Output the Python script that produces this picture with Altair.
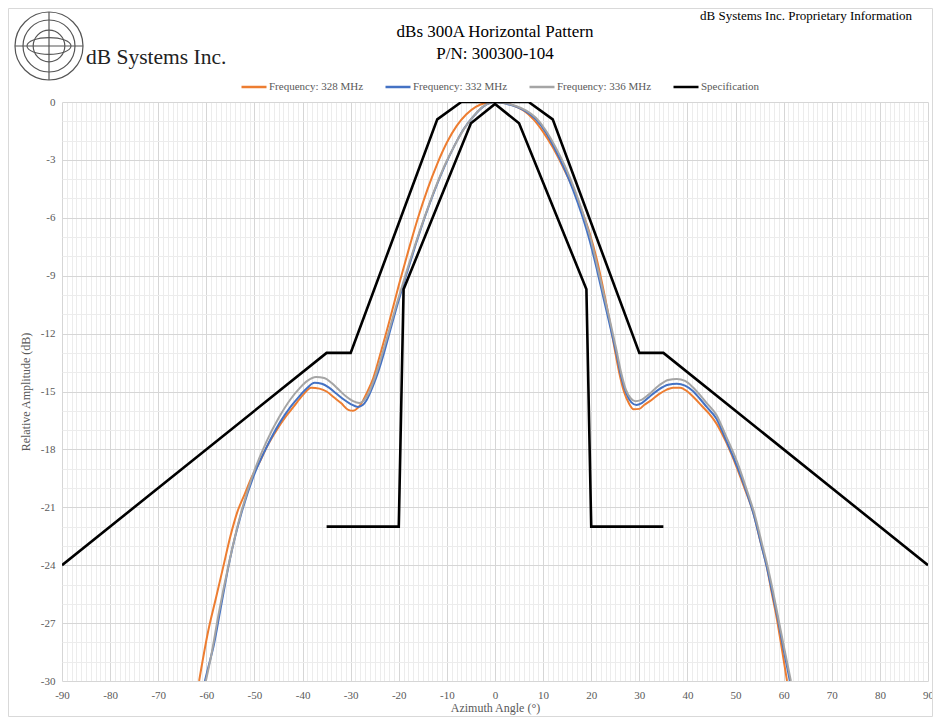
import altair as alt
import pandas as pd

# ---------------- data ----------------
SERIES = ["Frequency: 328 MHz", "Frequency: 332 MHz", "Frequency: 336 MHz", "Specification"]
COLORS = ["#ED7D31", "#4472C4", "#A5A5A5", "#000000"]

ang_328 = [-61.5, -59.6, -58.0, -56.5, -55.0, -53.5, -52.0, -50.5, -49.0, -47.5, -45.4, -43.5, -41.9, -40.0,
           -38.2, -36.5, -35.0, -33.5, -32.0, -30.5, -29.5, -28.5, -27.5, -26.5, -25.3, -24.0, -22.0,
           -20.0, -18.0, -16.0, -14.0, -12.0, -10.0, -8.0, -6.0, -4.0, -2.0, 0.0,
           2.0, 4.0, 6.0, 8.0, 10.0, 12.0, 14.0, 16.0, 18.0, 19.8, 21.3, 22.6, 23.8, 24.8, 25.8, 26.8, 27.8,
           28.8, 30.0, 31.0, 32.2, 34.0, 35.7, 37.0, 38.5, 40.0, 41.5, 43.0, 44.5, 46.0, 48.0, 50.2,
           52.0, 53.7, 55.0, 56.5, 57.5, 58.6, 59.6, 60.7]
db_328 = [-30.0, -27.4, -25.7, -24.1, -22.5, -21.2, -20.3, -19.4, -18.7, -17.9, -17.0, -16.3, -15.8, -15.2,
          -14.8, -14.85, -15.0, -15.3, -15.6, -15.95, -16.0, -15.85, -15.5, -15.0, -14.3, -13.2, -11.4,
          -9.5, -7.7, -6.0, -4.5, -3.2, -2.1, -1.25, -0.65, -0.25, -0.05, 0.0,
          -0.05, -0.2, -0.45, -0.9, -1.55, -2.35, -3.3, -4.35, -5.6, -6.9, -8.3, -9.8, -11.3, -12.7, -14.0, -15.0, -15.6,
          -15.92, -15.9, -15.7, -15.5, -15.15, -14.9, -14.8, -14.8, -15.0, -15.35, -15.75, -16.15, -16.65, -17.6, -18.9,
          -20.1, -21.3, -22.6, -24.1, -25.4, -26.8, -28.3, -30.0]

ang_332 = [-60.3, -59.3, -58.5, -57.0, -55.1, -52.7, -50.2, -47.5, -44.7, -42.5, -40.5, -39.0, -37.5,
           -36.0, -34.5, -33.0, -31.5, -30.0, -28.5, -27.5, -26.7, -25.5, -24.3, -23.3, -22.3, -20.4,
           -18.5, -16.5, -14.5, -12.5, -10.5, -8.5, -6.5, -4.5, -2.5, 0.0,
           2.5, 4.5, 6.5, 8.5, 10.5, 12.5, 14.5, 16.3, 18.0, 19.7, 21.2, 22.5, 23.9, 25.2, 26.3, 27.3,
           28.3, 29.4, 30.5, 32.0, 34.0, 36.0, 37.8, 39.5, 41.0, 42.5, 44.0, 46.0, 48.0, 50.2, 52.0,
           53.8, 55.3, 56.5, 57.7, 58.8, 60.0, 61.3]
db_332 = [-30.0, -29.0, -28.2, -26.2, -23.7, -21.3, -19.4, -17.9, -16.6, -15.8, -15.2, -14.8, -14.55,
          -14.6, -14.8, -15.1, -15.4, -15.65, -15.8, -15.7, -15.45, -14.8, -14.0, -13.2, -12.3, -10.6,
          -9.0, -7.4, -5.9, -4.55, -3.35, -2.3, -1.4, -0.75, -0.25, 0.0,
          -0.1, -0.25, -0.5, -0.9, -1.55, -2.45, -3.5, -4.6, -5.8, -7.2, -8.7, -10.1, -11.6, -13.0, -14.3, -15.1,
          -15.55, -15.7, -15.6, -15.3, -14.9, -14.65, -14.6, -14.7, -14.95, -15.35, -15.8, -16.4, -17.5, -18.8, -20.0,
          -21.4, -22.9, -24.1, -25.5, -26.8, -28.4, -30.0]

ang_336 = [-60.1, -59.0, -57.5, -55.3, -52.8, -50.3, -47.5, -44.8, -42.5, -40.5, -39.0, -37.2, -35.5,
           -34.0, -32.5, -31.0, -29.5, -28.2, -27.2, -26.3, -25.3, -24.2, -23.2, -22.2, -20.3, -18.4,
           -16.4, -14.4, -12.4, -10.4, -8.4, -6.4, -4.4, -2.4, 0.0,
           2.5, 4.5, 6.5, 8.5, 10.5, 12.5, 14.5, 16.5, 18.2, 19.9, 21.3, 22.6, 24.0, 25.2, 26.2, 27.2,
           28.2, 29.2, 30.3, 32.0, 34.0, 36.0, 37.8, 39.5, 41.0, 42.5, 44.0, 46.0, 48.0, 50.4, 52.2,
           54.0, 55.5, 56.7, 57.9, 59.0, 60.2, 61.5]
db_336 = [-30.0, -28.7, -26.6, -23.9, -21.3, -19.3, -17.6, -16.3, -15.4, -14.8, -14.45, -14.25, -14.3,
          -14.55, -14.9, -15.25, -15.5, -15.6, -15.45, -15.1, -14.5, -13.7, -12.85, -12.0, -10.35, -8.8,
          -7.25, -5.8, -4.45, -3.25, -2.25, -1.38, -0.72, -0.22, 0.0,
          -0.08, -0.22, -0.45, -0.82, -1.45, -2.3, -3.3, -4.5, -5.7, -7.1, -8.55, -9.95, -11.45, -12.8, -14.0, -14.9,
          -15.35, -15.5, -15.45, -15.15, -14.7, -14.4, -14.35, -14.45, -14.75, -15.15, -15.6, -16.2, -17.3, -18.7, -20.0,
          -21.4, -22.9, -24.1, -25.5, -26.9, -28.4, -30.0]

spec_outer_ang = [-90, -35, -30, -12, -7, 7, 12, 30, 35, 90]
spec_outer_db = [-24, -13, -13, -0.9, 0, 0, -0.9, -13, -13, -24]
spec_inner_ang = [-35, -20, -19, -5, 0, 5, 19, 20, 35]
spec_inner_db = [-22, -22, -9.7, -1.1, -0.1, -1.1, -9.7, -22, -22]

x_ticks = list(range(-90, 91, 1))
y_ticks = list(range(-30, 1, 1))

TITLE_1 = "dBs 300A Horizontal Pattern"
TITLE_2 = "P/N: 300300-104"
CORNER = "dB Systems Inc. Proprietary Information"
LOGO_TEXT = "dB Systems Inc."

# ---------------- tables ----------------
rows = []
for name, a, d in [(SERIES[0], ang_328, db_328), (SERIES[1], ang_332, db_332), (SERIES[2], ang_336, db_336)]:
    for i, (x, y) in enumerate(zip(a, d)):
        rows.append({"series": name, "seg": name, "idx": i, "angle": x, "db": y})
curves_df = pd.DataFrame(rows)

srows = []
for seg, a, d in [("outer", spec_outer_ang, spec_outer_db), ("inner", spec_inner_ang, spec_inner_db)]:
    for i, (x, y) in enumerate(zip(a, d)):
        srows.append({"series": SERIES[3], "seg": seg, "idx": i, "angle": x, "db": y})
spec_df = pd.DataFrame(srows)

FONT = "Liberation Serif"
GREY = "#595959"

xscale = alt.Scale(domain=[-90, 90], nice=False, zero=False)
yscale = alt.Scale(domain=[-30, 0], nice=False, zero=False)

xaxis = alt.Axis(
    values=x_ticks, labelExpr="datum.value % 10 === 0 ? '' + datum.value : ''",
    grid=True,
    gridColor={"condition": {"test": "datum.value % 10 === 0", "value": "#d6d6d6"}, "value": "#ececec"},
    ticks=False, domain=False, labelOverlap=False, labelFlush=False,
    labelFont=FONT, labelFontSize=11, labelColor=GREY, labelPadding=8,
    title="Azimuth Angle (°)", titleFont=FONT, titleFontSize=12, titleFontWeight="normal",
    titleColor=GREY, titlePadding=2,
)
yaxis = alt.Axis(
    values=y_ticks, labelExpr="datum.value % 3 === 0 ? '' + datum.value : ''",
    grid=True,
    gridColor={"condition": {"test": "datum.value % 3 === 0", "value": "#d6d6d6"}, "value": "#ececec"},
    ticks=False, domain=False, labelOverlap=False, labelFlush=False,
    labelFont=FONT, labelFontSize=11, labelColor=GREY, labelPadding=7,
    title="Relative Amplitude (dB)", titleFont=FONT, titleFontSize=12, titleFontWeight="normal",
    titleColor=GREY, titlePadding=8,
)

color = alt.Color(
    "series:N",
    scale=alt.Scale(domain=SERIES, range=COLORS),
    legend=alt.Legend(
        title=None, orient="none", direction="horizontal", columns=4,
        legendX=178, legendY=-29, symbolType="stroke", symbolSize=625,
        symbolStrokeWidth=2.5, labelOffset=1, columnPadding=16, padding=0,
        labelFont=FONT, labelFontSize=11, labelColor=GREY,
    ),
)

enc = dict(
    x=alt.X("angle:Q", scale=xscale, axis=xaxis),
    y=alt.Y("db:Q", scale=yscale, axis=yaxis),
    color=color,
    detail="seg:N",
    order="idx:Q",
)

curves = alt.Chart(curves_df).mark_line(strokeWidth=2, interpolate="monotone", clip=True).encode(**enc)
spec = alt.Chart(spec_df).mark_line(strokeWidth=2.6, clip=True).encode(**enc)

one = pd.DataFrame({"k": [0]})

def text_layer(txt, x, y, size, align, color="#000000"):
    return alt.Chart(pd.DataFrame({"t": [txt]})).mark_text(
        font=FONT, fontSize=size, align=align, baseline="alphabetic", color=color
    ).encode(x=alt.value(x), y=alt.value(y), text="t:N")

t1 = text_layer(TITLE_1, 433, -65, 17, "center")
t2 = text_layer(TITLE_2, 433, -43, 17, "center")
t3 = text_layer(CORNER, 850, -82, 13, "right")
t4 = text_layer(LOGO_TEXT, 24, -38, 21.5, "left", "#222222")

circles = alt.Chart(pd.DataFrame({"s": [4624, 2700, 1000]})).mark_point(
    shape="circle", filled=False, stroke="#555555", strokeWidth=1.2, opacity=1
).encode(x=alt.value(-13), y=alt.value(-56), size=alt.Size("s:Q", scale=None, legend=None))

ellipse = alt.Chart(one).mark_point(
    shape="M -1 0 A 1 0.38 0 1 1 1 0 A 1 0.38 0 1 1 -1 0 Z", filled=False,
    stroke="#555555", strokeWidth=1.1, size=1936, opacity=1
).encode(x=alt.value(-13), y=alt.value(-56))

hline = alt.Chart(one).mark_rule(color="#555555", strokeWidth=1.2).encode(
    x=alt.value(-47), x2=alt.value(21), y=alt.value(-56))
vline = alt.Chart(one).mark_rule(color="#555555", strokeWidth=1.2).encode(
    x=alt.value(-13), y=alt.value(-90), y2=alt.value(-22))

frame = alt.Chart(one).mark_rect(fillOpacity=0, stroke="#d9d9d9", strokeWidth=1).encode(
    x=alt.value(-53.5), x2=alt.value(870.5), y=alt.value(-93.5), y2=alt.value(614.5))

chart = alt.layer(
    curves, spec, frame, t1, t2, t3, t4, circles, ellipse, hline, vline
).properties(
    width=866, height=579,
    autosize=alt.AutoSizeParams(type="none"),
    padding={"left": 54, "top": 94, "right": 5, "bottom": 36},
    background="white",
).configure_view(stroke=None)

chart.save("out.html", embed_options={"renderer": "svg", "actions": False})
